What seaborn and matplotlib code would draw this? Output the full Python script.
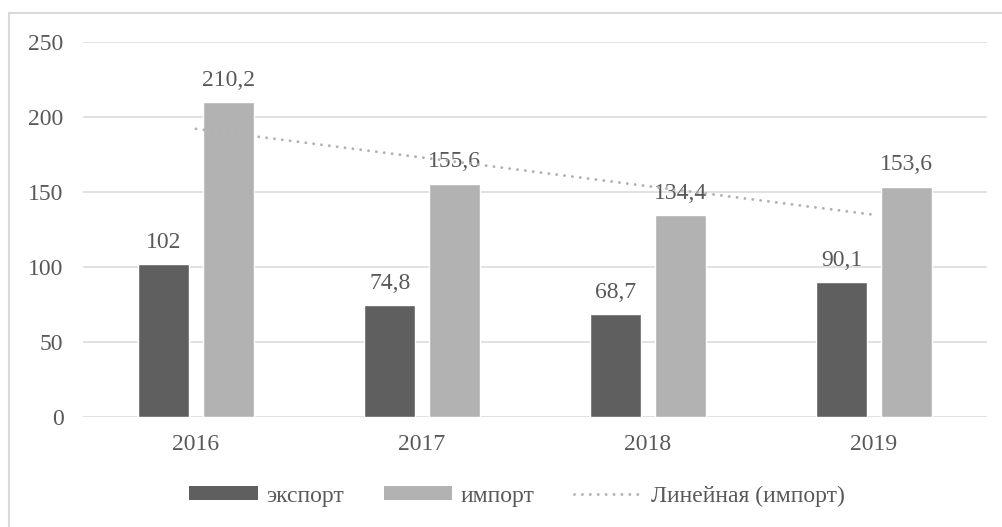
import numpy as np
import pandas as pd
import matplotlib
matplotlib.use("Agg")
import matplotlib.pyplot as plt
from matplotlib.patches import Patch, Rectangle
from matplotlib.lines import Line2D
import seaborn as sns

years = ["2016", "2017", "2018", "2019"]
export_vals = [102, 74.8, 68.7, 90.1]
import_vals = [210.2, 155.6, 134.4, 153.6]
series_names = ["экспорт", "импорт"]
trend_label = "Линейная (импорт)"
y_ticks = [0, 50, 100, 150, 200, 250]

sns.set_theme(style="white")
plt.rcParams['font.family'] = ['Liberation Serif', 'DejaVu Serif']
text_col = '#595959'
dark = '#5f5f5f'
light = '#b2b2b2'
trend_col = '#b0b0b0'
fs = 17

df = pd.DataFrame({
    'year': years * 2,
    'value': export_vals + import_vals,
    'series': [series_names[0]] * 4 + [series_names[1]] * 4,
})

fig = plt.figure(figsize=(10.02, 5.27), dpi=100)
ax = fig.add_axes([83 / 1002, 110 / 527, 904 / 1002, 375 / 527])

sns.barplot(data=df, x='year', y='value', hue='series', hue_order=series_names,
            palette=[dark, light], width=0.571, gap=0.209, saturation=1,
            legend=False, ax=ax)

# подписи значений
for cont, vals in zip(ax.containers, [export_vals, import_vals]):
    labels = [f"{v:g}".replace('.', ',') for v in vals]
    ax.bar_label(cont, labels=labels, padding=8, fontsize=fs, color=text_col)

# линейный тренд по импорту
pos = np.arange(len(years))
k, b = np.polyfit(pos, import_vals, 1)
dots = (0, (0.01, 2.7))
ax.plot(pos, k * pos + b, color=trend_col, lw=2.1,
        linestyle=dots, dash_capstyle='round', zorder=3)

ax.set_ylim(0, 250)
ax.set_xlim(-0.5, 3.5)
ax.set_yticks(y_ticks)
ax.set_xlabel('')
ax.set_ylabel('')
ax.yaxis.grid(True, color='#d9d9d9', lw=1.1)
ax.set_axisbelow(True)
for s in ax.spines.values():
    s.set_visible(False)
ax.tick_params(axis='both', length=0, labelsize=fs, labelcolor=text_col)
ax.tick_params(axis='y', pad=14)
ax.tick_params(axis='x', pad=12)

handles = [
    Patch(facecolor=dark, edgecolor='none'),
    Patch(facecolor=light, edgecolor='none'),
    Line2D([0], [0], color=trend_col, lw=2.1, linestyle=dots,
           dash_capstyle='round'),
]
leg = fig.legend(handles, series_names + [trend_label], loc='center',
                 bbox_to_anchor=(0.516, 0.059), ncol=3, frameon=False,
                 fontsize=fs, handlelength=2.9, handleheight=0.5,
                 handletextpad=0.35, columnspacing=1.7)
for t in leg.get_texts():
    t.set_color(text_col)

# рамка вокруг диаграммы
fig.patches.append(Rectangle((9 / 1002, -0.1), 1.2, 0.1 + 514 / 527,
                             transform=fig.transFigure, fill=False,
                             edgecolor='#d9d9d9', lw=1.5))

fig.savefig('out.png', dpi=100)
